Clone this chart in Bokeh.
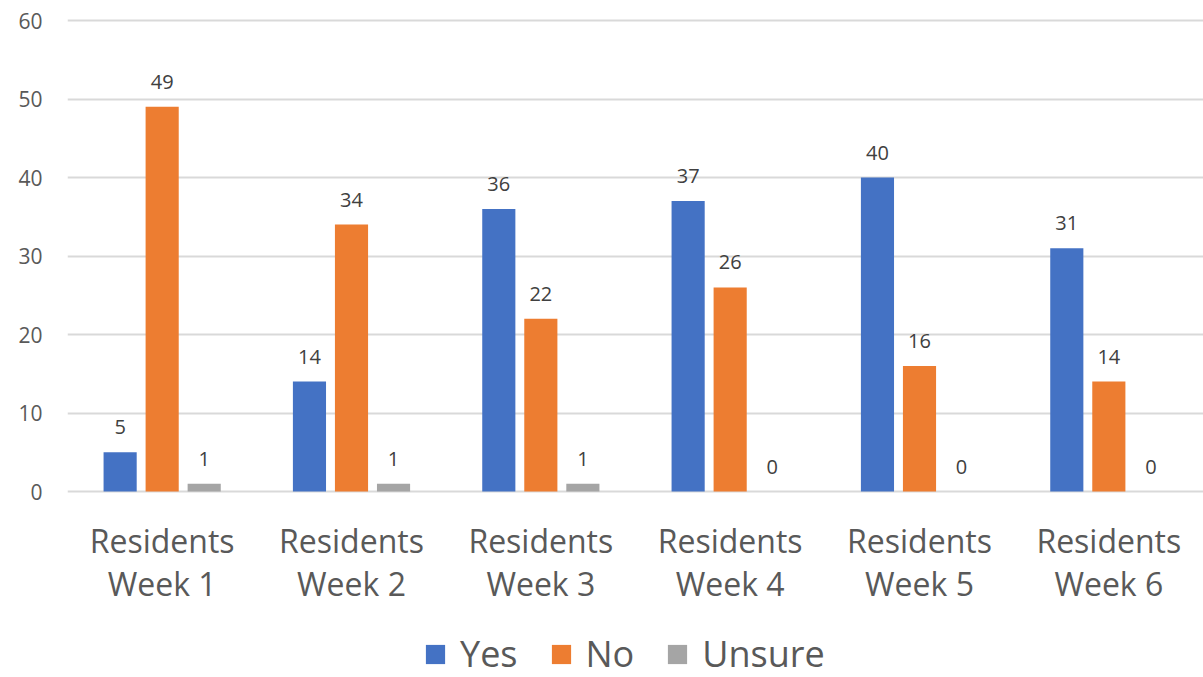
from bokeh.plotting import figure
from bokeh.models import (ColumnDataSource, Legend, LegendItem, FixedTicker,
                          Range1d, FactorRange, LabelSet)
from bokeh.core.properties import value
from bokeh.transform import dodge
from bokeh.embed import file_html
from bokeh.resources import INLINE

categories = ["Residents Week 1", "Residents Week 2", "Residents Week 3",
              "Residents Week 4", "Residents Week 5", "Residents Week 6"]
line1 = ["Residents"] * 6
line2 = ["Week 1", "Week 2", "Week 3", "Week 4", "Week 5", "Week 6"]
yes = [5, 14, 36, 37, 40, 31]
no = [49, 34, 22, 26, 16, 14]
unsure = [1, 1, 1, 0, 0, 0]
y_ticks = [0, 10, 20, 30, 40, 50, 60]
series_names = ["Yes", "No", "Unsure"]
colors = ["#4472C4", "#ED7D31", "#A5A5A5"]

# layout (pixels): frame fills the canvas height; value 60 at y=20, value 0 at y=491
W, H = 1203, 677
LEFT = 67
PX_TOP, PX_ZERO = 20, 491
ppu = (PX_ZERO - PX_TOP) / 60.0
y_top = 60 + PX_TOP / ppu
y_bot = -(H - PX_ZERO) / ppu

src = ColumnDataSource(dict(cat=categories, Yes=yes, No=no, Unsure=unsure,
                            lYes=[str(v) for v in yes], lNo=[str(v) for v in no],
                            lUnsure=[str(v) for v in unsure],
                            line1=line1, line2=line2,
                            y1=[-(540 - PX_ZERO) / ppu] * 6,
                            y2=[-(583 - PX_ZERO) / ppu] * 6))

FONT = "Open Sans"
p = figure(x_range=FactorRange(*categories, range_padding=0), y_range=Range1d(y_bot, y_top),
           width=W, height=H, output_backend="svg", toolbar_location=None,
           min_border_left=LEFT, min_border_right=0, min_border_top=0, min_border_bottom=0)
p.outline_line_color = None
p.background_fill_color = "white"
p.border_fill_color = "white"

offsets = [-0.222, 0.0, 0.222]
items = []
for name, col, off in zip(series_names, colors, offsets):
    r = p.vbar(x=dodge("cat", off, range=p.x_range), top=name, width=0.175,
               source=src, fill_color=col, line_color=None)
    p.text(x=dodge("cat", off, range=p.x_range), y=name, text="l" + name, source=src,
           text_align="center", text_baseline="middle", y_offset=-25,
           text_font_size="20px", text_color="#404040", text_font=value(FONT))
    items.append(LegendItem(label=name, renderers=[r]))

for ycol, tcol in (("y1", "line1"), ("y2", "line2")):
    p.add_layout(LabelSet(x="cat", y=ycol, text=tcol, source=src,
                          text_align="center", text_baseline="middle",
                          text_font_size="32px", text_color="#595959",
                          text_font=value(FONT)))

p.yaxis.ticker = FixedTicker(ticks=y_ticks)
p.yaxis.axis_line_color = None
p.yaxis.major_tick_line_color = None
p.yaxis.minor_tick_line_color = None
p.yaxis.major_label_text_font_size = "21px"
p.yaxis.major_label_text_color = "#595959"
p.yaxis.major_label_text_font = FONT
p.yaxis.major_label_standoff = 19

p.xaxis.visible = False

p.xgrid.grid_line_color = None
p.ygrid.grid_line_color = "#d9d9d9"
p.ygrid.grid_line_width = 2

legend = Legend(items=items, orientation="horizontal", location=(356, -1),
                label_text_font_size="36px", label_text_color="#595959", label_text_font=FONT,
                glyph_width=24, glyph_height=24, spacing=31, label_standoff=13,
                border_line_color=None, background_fill_alpha=0, margin=0, padding=0)
p.add_layout(legend)

open("out.html", "w").write(file_html(p, INLINE))
